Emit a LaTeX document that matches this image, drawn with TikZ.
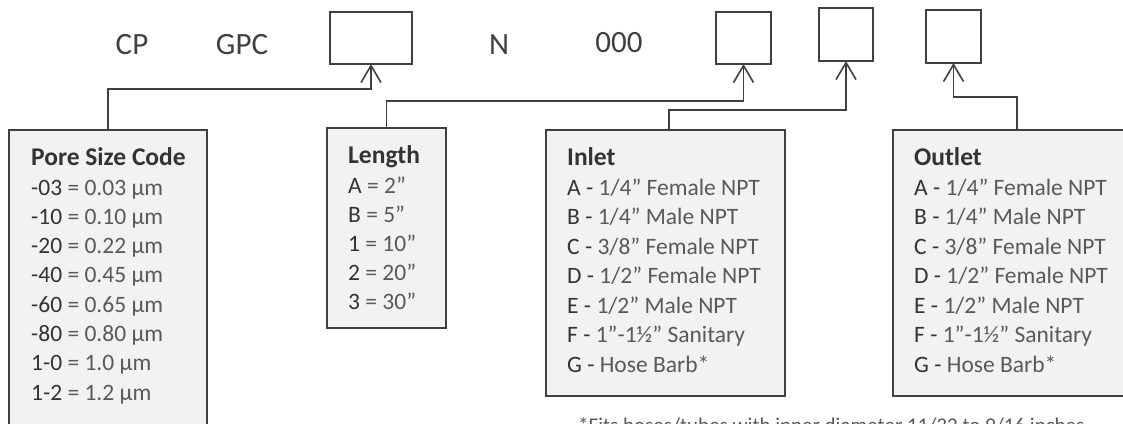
\documentclass[tikz,border=0pt]{standalone}
\usepackage{fontspec}
\setmainfont{Carlito}
\usetikzlibrary{arrows.meta}
\definecolor{linec}{HTML}{404040}
\definecolor{codec}{HTML}{333333}
\definecolor{descc}{HTML}{595959}
\definecolor{boxfill}{HTML}{F2F2F2}
\newcommand\cde[1]{{\color{codec}#1}}
\begin{document}
\begin{tikzpicture}[x=1pt,y=-1pt,
  slot/.style={draw=linec, line width=2pt, fill=white, inner sep=0pt, outer sep=0pt},
  legendbox/.style={draw=linec, line width=2pt, fill=boxfill, inner sep=0pt, outer sep=0pt, anchor=north west},
  toptext/.style={font=\fontsize{31pt}{36pt}\selectfont, text=linec, anchor=base, inner sep=0pt},
  headtxt/.style={font=\fontsize{25.5pt}{30pt}\selectfont\bfseries, text=codec, anchor=base west, inner sep=0pt},
  itemtxt/.style={font=\fontsize{23.5pt}{29pt}\selectfont, text=descc, anchor=base west, inner sep=0pt},
  notetxt/.style={font=\fontsize{21pt}{25pt}\selectfont, text=descc, anchor=base west, inner sep=0pt},
  arr/.style={draw=linec, line width=1.6pt, line join=miter, -{Straight Barb[length=17pt,width=20pt]}}
]
\fill[white] (0,0) rectangle (1123,423);
\useasboundingbox (0,0) rectangle (1123,423);
\clip (0,0) rectangle (1123,423);

% top row
\node[toptext] (cp) at (132,54) {CP};
\node[toptext] (gpc) at (242,54) {GPC};
\node[toptext] (n) at (499,54) {N};
\node[toptext] (zeros) at (619,52) {000};
\node[slot, minimum width=82pt, minimum height=52pt] (box1) at (371,38) {};
\node[slot, minimum width=55pt, minimum height=52pt] (box2) at (743.5,38) {};
\node[slot, minimum width=54pt, minimum height=53pt] (box3) at (846,34.5) {};
\node[slot, minimum width=55pt, minimum height=53pt] (box4) at (953.5,36.5) {};

% legend boxes
\node[legendbox, minimum width=198pt, minimum height=320pt] (pore) at (9,130) {};
\node[legendbox, minimum width=119pt, minimum height=200pt] (length) at (327,128) {};
\node[legendbox, minimum width=239pt, minimum height=266pt] (inlet) at (546,130) {};
\node[legendbox, minimum width=248pt, minimum height=266pt] (outlet) at (893,130) {};

% pore size
\node[headtxt] (ph) at (31,165) {Pore Size Code};
\node[itemtxt] (p1) at (31,195) {\cde{-03} = 0.03 µm};
\node[itemtxt] (p2) at (31,224.3) {\cde{-10} = 0.10 µm};
\node[itemtxt] (p3) at (31,253.6) {\cde{-20} = 0.22 µm};
\node[itemtxt] (p4) at (31,282.9) {\cde{-40} = 0.45 µm};
\node[itemtxt] (p5) at (31,312.2) {\cde{-60} = 0.65 µm};
\node[itemtxt] (p6) at (31,341.5) {\cde{-80} = 0.80 µm};
\node[itemtxt] (p7) at (31,370.8) {\cde{1-0} = 1.0 µm};
\node[itemtxt] (p8) at (31,400.1) {\cde{1-2} = 1.2 µm};

% length
\node[headtxt] (lh) at (348,163) {Length};
\node[itemtxt] (l1) at (348,193) {\cde{A} = 2”};
\node[itemtxt] (l2) at (348,222) {\cde{B} = 5”};
\node[itemtxt] (l3) at (348,251) {\cde{1} = 10”};
\node[itemtxt] (l4) at (348,280) {\cde{2} = 20”};
\node[itemtxt] (l5) at (348,309) {\cde{3} = 30”};

% inlet
\node[headtxt] (ih) at (567,165) {Inlet};
\node[itemtxt] (i1) at (567,195) {\cde{A -} 1/4” Female NPT};
\node[itemtxt] (i2) at (567,224.5) {\cde{B -} 1/4” Male NPT};
\node[itemtxt] (i3) at (567,254) {\cde{C -} 3/8” Female NPT};
\node[itemtxt] (i4) at (567,283.5) {\cde{D -} 1/2” Female NPT};
\node[itemtxt] (i5) at (567,313) {\cde{E -} 1/2” Male NPT};
\node[itemtxt] (i6) at (567,342.5) {\cde{F -} 1”-1½” Sanitary};
\node[itemtxt] (i7) at (567,372) {\cde{G -} Hose Barb*};

% outlet
\node[headtxt] (oh) at (914,165) {Outlet};
\node[itemtxt] (o1) at (914,195) {\cde{A -} 1/4” Female NPT};
\node[itemtxt] (o2) at (914,224.5) {\cde{B -} 1/4” Male NPT};
\node[itemtxt] (o3) at (914,254) {\cde{C -} 3/8” Female NPT};
\node[itemtxt] (o4) at (914,283.5) {\cde{D -} 1/2” Female NPT};
\node[itemtxt] (o5) at (914,313) {\cde{E -} 1/2” Male NPT};
\node[itemtxt] (o6) at (914,342.5) {\cde{F -} 1”-1½” Sanitary};
\node[itemtxt] (o7) at (914,372) {\cde{G -} Hose Barb*};

% footnote (cut by the lower edge, as in the reference)
\node[notetxt] (note) at (578,432) {*Fits hoses/tubes with inner diameter 11/32 to 9/16 inches};

% connectors
\coordinate (inletport) at ([xshift=3.5pt]inlet.north);
\draw[arr] (pore.north) -- (pore.north |- 0,89) -| (box1.south);
\draw[arr] (length.north) -- (length.north |- 0,101) -| (box2.south);
\draw[arr] (inletport) -- (inletport |- 0,110) -| (box3.south);
\draw[arr] (outlet.north) -- (outlet.north |- 0,97) -| (box4.south);
\end{tikzpicture}
\end{document}
